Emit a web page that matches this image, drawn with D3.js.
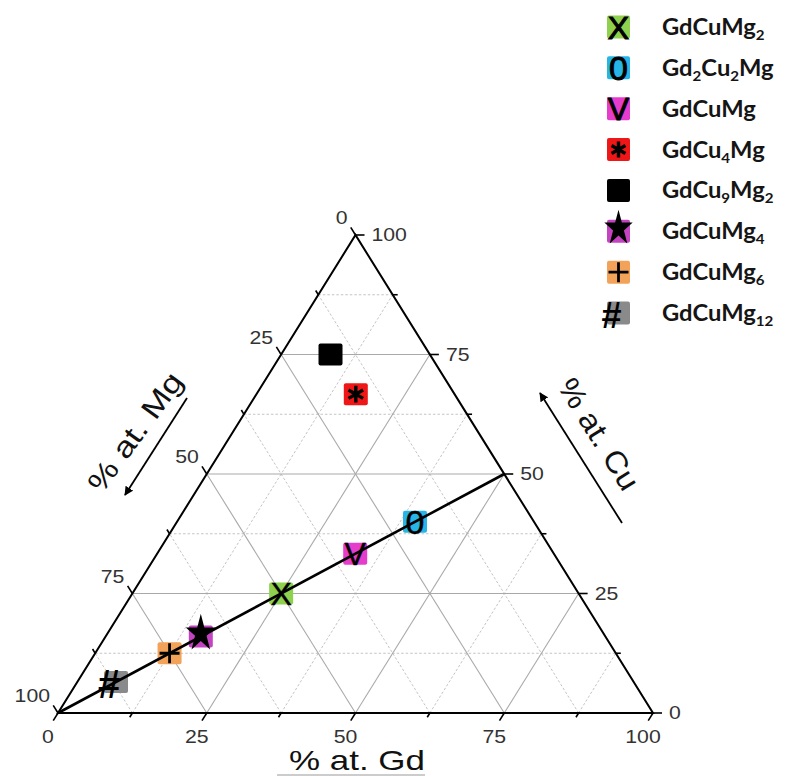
<!DOCTYPE html>
<html><head><meta charset="utf-8">
<script src="https://cdn.jsdelivr.net/npm/d3@7"></script>
<style>html,body{margin:0;padding:0;background:#fff;} svg{display:block}</style>
</head><body><svg id="c" width="785" height="776"></svg>
<script>
// ---------- data ----------
const axisTicks = [0, 25, 50, 75, 100];
const minorTicks = [12.5, 37.5, 62.5, 87.5];
const compounds = ["GdCuMg_2", "Gd_2Cu_2Mg", "GdCuMg", "GdCu_4Mg", "GdCu_9Mg_2", "GdCuMg_4", "GdCuMg_6", "GdCuMg_12"];
const gdPct = [25, 40, 33.3, 16.7, 8.3, 16, 12.5, 6.5];
const cuPct = [25, 40, 33.3, 66.7, 75, 16, 12.5, 6.5];
const mgPct = [50, 20, 33.4, 16.6, 16.7, 68, 75, 87];
const markerFill = ["#8fd04f", "#27b5e6", "#e63ccb", "#ee1616", "#000000", "#c443c1", "#f3a25a", "#8a8a8a"];
const markerGlyph = ["X", "0", "V", "asterisk", "square", "star", "plus", "#"];
const tieLineGd = [0, 50];
const tieLineCu = [0, 50];

// ---------- setup ----------
const svg = d3.select("#c");
const xs = d3.scaleLinear().domain([0, 100]).range([58, 653]);
const ys = d3.scaleLinear().domain([0, 100]).range([713, 235]);
const px = (gd, cu) => xs(gd + cu / 2);
const py = (gd, cu) => ys(cu);
const line = d3.line().x(d => px(d[0], d[1])).y(d => py(d[0], d[1]));

// ---------- grid ----------
function gridLines(v) {
  return [
    [[0, v], [100 - v, v]],        // constant Cu
    [[v, 0], [v, 100 - v]],        // constant Gd
    [[100 - v, 0], [0, 100 - v]]   // constant Mg
  ];
}
const gGrid = svg.append("g");
minorTicks.forEach(v => gridLines(v).forEach(seg => {
  gGrid.append("path").attr("d", line(seg)).attr("fill", "none")
    .attr("stroke", "#c4c4c4").attr("stroke-width", 1).attr("stroke-dasharray", "2.5,2");
}));
[25, 50, 75].forEach(v => gridLines(v).forEach(seg => {
  gGrid.append("path").attr("d", line(seg)).attr("fill", "none")
    .attr("stroke", "#a9a9a9").attr("stroke-width", 1.1);
}));

// ---------- triangle edges ----------
svg.append("path").attr("d", line([[0, 0], [100, 0], [0, 100]]) + "Z")
  .attr("fill", "none").attr("stroke", "#000").attr("stroke-width", 2).attr("stroke-linejoin", "miter");

function unit(dx, dy) { const l = Math.hypot(dx, dy); return [dx / l, dy / l]; }
const dirGd = unit(px(0, 0) - px(0, 100), py(0, 0) - py(0, 100));
const dirMg = unit(px(0, 100) - px(100, 0), py(0, 100) - py(100, 0));
const dirCu = [1, 0];

const gTicks = svg.append("g").attr("stroke", "#000").attr("stroke-width", 1.6);
axisTicks.concat(minorTicks).forEach(v => {
  const len = axisTicks.includes(v) ? 9 : 5;
  let x = px(v, 0), y = py(v, 0);
  gTicks.append("line").attr("x1", x).attr("y1", y).attr("x2", x + dirGd[0] * len).attr("y2", y + dirGd[1] * len);
  x = px(100 - v, v); y = py(100 - v, v);
  gTicks.append("line").attr("x1", x).attr("y1", y).attr("x2", x + dirCu[0] * len).attr("y2", y + dirCu[1] * len);
  x = px(0, 100 - v); y = py(0, 100 - v);
  gTicks.append("line").attr("x1", x).attr("y1", y).attr("x2", x + dirMg[0] * len).attr("y2", y + dirMg[1] * len);
});

const sansFont = "'Liberation Sans', Arial, sans-serif";
const gLab = svg.append("g").attr("font-family", sansFont).attr("font-size", 18).attr("fill", "#333");
function stretchedText(g, x, y, txt, anchor) {
  g.append("g").attr("transform", `translate(${x},${y}) scale(1.18,1)`)
    .append("text").attr("text-anchor", anchor).attr("dy", "0.35em").text(txt);
}
axisTicks.forEach(v => {
  stretchedText(gLab, px(v, 0) - 10, py(v, 0) + 24, String(v), "middle");
  stretchedText(gLab, px(100 - v, v) + 16, py(100 - v, v), String(v), "start");
  stretchedText(gLab, px(0, 100 - v) - 8, py(0, 100 - v) - 17, String(v), "end");
});

// ---------- axis titles ----------
svg.append("text").attr("x", 289).attr("y", 770).attr("font-family", sansFont)
  .attr("font-size", 28).attr("fill", "#111").attr("textLength", 136)
  .attr("lengthAdjust", "spacingAndGlyphs").text("% at. Gd");
svg.append("line").attr("x1", 277).attr("y1", 775).attr("x2", 425).attr("y2", 775)
  .attr("stroke", "#999").attr("stroke-width", 1);

svg.append("text").attr("transform", "translate(135,432) rotate(-54)")
  .attr("text-anchor", "middle").attr("dy", "0.35em").attr("font-family", sansFont)
  .attr("font-size", 29).attr("fill", "#111").attr("textLength", 140)
  .attr("lengthAdjust", "spacingAndGlyphs").text("% at. Mg");
svg.append("text").attr("transform", "translate(599,434) rotate(58)")
  .attr("text-anchor", "middle").attr("dy", "0.35em").attr("font-family", sansFont)
  .attr("font-size", 30).attr("fill", "#111").attr("textLength", 126)
  .attr("lengthAdjust", "spacingAndGlyphs").text("% at. Cu");

const defs = svg.append("defs");
defs.append("marker").attr("id", "ah").attr("viewBox", "0 0 10 10").attr("refX", 9).attr("refY", 5)
  .attr("markerWidth", 5).attr("markerHeight", 5).attr("orient", "auto")
  .append("path").attr("d", "M0,0L10,5L0,10Z").attr("fill", "#000");
svg.append("line").attr("x1", 187).attr("y1", 398).attr("x2", 125).attr("y2", 495)
  .attr("stroke", "#000").attr("stroke-width", 1.8).attr("marker-end", "url(#ah)");
svg.append("line").attr("x1", 622).attr("y1", 523).attr("x2", 540).attr("y2", 393)
  .attr("stroke", "#000").attr("stroke-width", 1.8).attr("marker-end", "url(#ah)");

// ---------- markers ----------
function drawGlyph(g, kind, big) {
  if (kind === "square") return;
  if (kind === "star") {
    g.append("path").attr("d", d3.symbol(d3.symbolStar, big ? 280 : 250)())
      .attr("transform", "translate(0,-3) scale(1,1.25)").attr("fill", "#000");
  } else if (kind === "asterisk") {
    g.append("path").attr("d", d3.symbol(d3.symbolAsterisk, big ? 200 : 180)())
      .attr("fill", "none").attr("stroke", "#000").attr("stroke-width", 3.4);
  } else if (kind === "plus") {
    g.append("path").attr("d", "M-10,0H10M0,-10V10").attr("stroke", "#000").attr("stroke-width", 2.8);
  } else if (kind === "#") {
    g.append("text").attr("x", -7).attr("y", 2).attr("text-anchor", "middle").attr("dy", "0.36em")
      .attr("font-family", sansFont).attr("font-weight", "bold").attr("font-size", big ? 40 : 36)
      .attr("fill", "#000").text("#");
  } else {
    const sz = kind === "0" ? 34 : 32;
    g.append("text").attr("text-anchor", "middle").attr("dy", "0.36em")
      .attr("font-family", sansFont).attr("font-size", sz).attr("fill", "#000")
      .attr("stroke", "#000").attr("stroke-width", big ? 0.4 : 1).text(kind);
  }
}

const idx = d3.range(compounds.length);
const gSq = svg.append("g");
idx.forEach(i => {
  const x = px(gdPct[i], cuPct[i]), y = py(gdPct[i], cuPct[i]);
  gSq.append("rect").attr("x", x - 12).attr("y", y - 11).attr("width", 24).attr("height", 22)
    .attr("rx", 2).attr("fill", markerFill[i]);
});

svg.append("path").attr("d", line(tieLineGd.map((g, i) => [g, tieLineCu[i]])))
  .attr("stroke", "#000").attr("stroke-width", 2.6).attr("fill", "none");

idx.forEach(i => {
  const x = px(gdPct[i], cuPct[i]), y = py(gdPct[i], cuPct[i]);
  drawGlyph(svg.append("g").attr("transform", `translate(${x},${y})`), markerGlyph[i], true);
});

// ---------- legend ----------
const ly = d3.scaleLinear().domain([0, 7]).range([27, 313]);
const gLeg = svg.append("g");
idx.forEach(i => {
  const y = ly(i);
  gLeg.append("rect").attr("x", 607).attr("y", y - 11.5).attr("width", 23).attr("height", 23)
    .attr("rx", 2).attr("fill", markerFill[i]);
  drawGlyph(gLeg.append("g").attr("transform", `translate(618.5,${y})`), markerGlyph[i], false);
  const t = gLeg.append("g").attr("transform", `translate(662,${y + 8}) scale(1.08,1)`)
    .append("text").attr("font-family", "Lato, 'Open Sans', sans-serif").attr("font-weight", "bold")
    .attr("font-size", 22).attr("fill", "#151515");
  const parts = compounds[i].split(/_(\d+)/);
  let shift = 0;
  parts.forEach((p, k) => {
    if (!p) return;
    if (k % 2 === 1) {
      t.append("tspan").attr("font-size", 14).attr("dy", 5 - shift).text(p);
      shift = 5;
    } else {
      t.append("tspan").attr("dy", -shift).text(p);
      shift = 0;
    }
  });
});
</script></body></html>
